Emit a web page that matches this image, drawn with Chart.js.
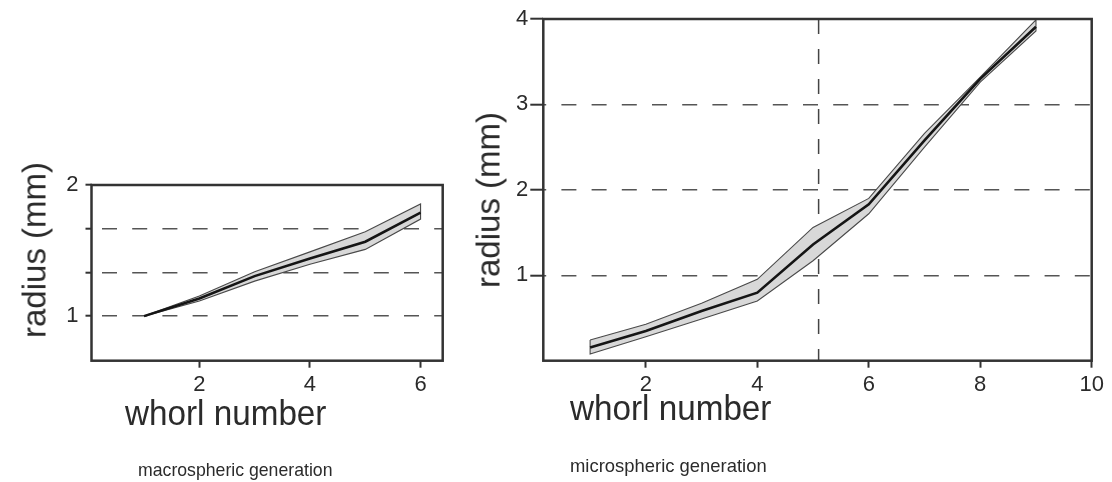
<!DOCTYPE html>
<html><head><meta charset="utf-8">
<script src="https://cdn.jsdelivr.net/npm/chart.js@4.4.1/dist/chart.umd.min.js"></script>
<style>
html,body{margin:0;padding:0;background:#fff;}
#wrap{position:relative;width:1112px;height:482px;overflow:hidden;font-family:'Liberation Sans',Arial,Helvetica,sans-serif;color:#2b2b2b;}
canvas{position:absolute;top:0;}
.t{position:absolute;white-space:nowrap;line-height:1;}
.rot{transform:translate(-50%,-50%) rotate(-90deg);}
</style></head><body>
<div id="wrap">
<canvas id="c1" width="480" height="482" style="left:0;width:480px;height:482px"></canvas>
<canvas id="c2" width="632" height="482" style="left:480px;width:632px;height:482px"></canvas>
<div class="t rot" style="left:34px;top:250px;font-size:33px">radius (mm)</div>
<div class="t rot" style="left:488px;top:200px;font-size:33px">radius (mm)</div>
<div class="t" style="left:125px;top:395px;font-size:35px;transform-origin:0 0;transform:scaleX(0.95)">whorl number</div>
<div class="t" style="left:570px;top:390px;font-size:35px;transform-origin:0 0;transform:scaleX(0.95)">whorl number</div>
<div class="t" style="left:138px;top:460px;font-size:19px;transform-origin:0 0;transform:scaleX(0.93)">macrospheric generation</div>
<div class="t" style="left:570px;top:456px;font-size:19px;transform-origin:0 0;transform:scaleX(0.97)">microspheric generation</div>
</div>
<script>
// ---- macrospheric generation (left) ----
const leftWhorl = [1, 2, 3, 4, 5, 6];
const leftMean  = [1.00, 1.135, 1.305, 1.44, 1.567, 1.789];
const leftUpper = [1.00, 1.153, 1.338, 1.49, 1.643, 1.855];
const leftLower = [1.00, 1.115, 1.267, 1.395, 1.509, 1.74];
const leftXTicks = [2, 4, 6];
const leftYTicks = [1, 4/3, 5/3, 2];
const leftYLabels = ['1', '', '', '2'];

// ---- microspheric generation (right) ----
const rightWhorl = [1, 2, 3, 4, 5, 6, 7, 8, 9];
const rightMean  = [0.155, 0.348, 0.582, 0.796, 1.36, 1.83, 2.58, 3.30, 3.91];
const rightUpper = [0.243, 0.426, 0.672, 0.953, 1.56, 1.90, 2.66, 3.32, 3.99];
const rightLower = [0.079, 0.281, 0.488, 0.699, 1.17, 1.72, 2.50, 3.26, 3.86];
const rightXTicks = [2, 4, 6, 8, 10];
const rightYTicks = [1, 2, 3, 4];
const rightYLabels = ['1', '2', '3', '4'];
const rightRefX = [5.1];

const FONT = "'Liberation Sans', Arial, Helvetica, sans-serif";
const INK = '#2b2b2b';

const framePlugin = {
  id: 'frame',
  afterDatasetsDraw(chart) {
    const {ctx, chartArea: a} = chart;
    ctx.save();
    ctx.strokeStyle = '#333';
    ctx.lineWidth = 2.5;
    ctx.strokeRect(a.left, a.top, a.right - a.left, a.bottom - a.top);
    ctx.restore();
  }
};

function pts(xs, ys) { return xs.map((x, i) => ({x: x, y: ys[i]})); }

function build(id, cfg) {
  const up = pts(cfg.xs, cfg.upper);
  const lo = pts(cfg.xs, cfg.lower);
  const outline = up.concat(lo.slice().reverse(), [up[0]]);
  const datasets = [
    {data: up, borderWidth: 0, borderColor: 'rgba(0,0,0,0)', backgroundColor: '#d8d8d8', fill: '+1', order: 4},
    {data: lo, borderWidth: 0, borderColor: 'rgba(0,0,0,0)', fill: false, order: 3},
    {data: outline, borderWidth: 1.1, borderColor: '#4a4a4a', fill: false, order: 2},
    {data: pts(cfg.xs, cfg.mean), borderWidth: 2.6, borderColor: '#151515', fill: false, order: 1}
  ];
  (cfg.refX || []).forEach(r => {
    datasets.push({data: [{x: r, y: cfg.ymax}, {x: r, y: cfg.ymin}], borderWidth: 1.5,
      borderColor: '#444', borderDash: [15, 15], fill: false, order: 5});
  });
  datasets.forEach(d => { d.pointRadius = 0; d.pointHoverRadius = 0; d.tension = 0; });
  return new Chart(document.getElementById(id), {
    type: 'line',
    data: {datasets: datasets},
    plugins: [framePlugin],
    options: {
      responsive: false, animation: false, devicePixelRatio: 1,
      layout: {padding: cfg.padding},
      plugins: {legend: {display: false}, tooltip: {enabled: false}},
      scales: {
        x: {
          type: 'linear', min: cfg.xmin, max: cfg.xmax,
          afterBuildTicks: s => { s.ticks = cfg.xTicks.map(v => ({value: v})); },
          afterFit: s => { s.height = cfg.xH; },
          grid: {drawOnChartArea: false, drawTicks: true, tickLength: 7, tickColor: '#333', tickWidth: 2, tickBorderDash: []},
          border: {display: false},
          ticks: {font: {family: FONT, size: 22}, color: INK, padding: 4, maxRotation: 0, autoSkip: false}
        },
        y: {
          type: 'linear', min: cfg.ymin, max: cfg.ymax,
          afterBuildTicks: s => { s.ticks = cfg.yTicks.map(v => ({value: v})); },
          afterFit: s => { s.width = cfg.yW; },
          grid: {drawOnChartArea: true, color: '#555', lineWidth: 1.4, drawTicks: true,
                 tickLength: cfg.yTickLen, tickColor: '#333', tickWidth: 2, tickBorderDash: []},
          border: {display: false, dash: [15, 15.2], dashOffset: cfg.dashOffset},
          ticks: {font: {family: FONT, size: 22}, color: INK, padding: cfg.yPad, autoSkip: false,
                  callback: (v, i) => cfg.yLabels[i]}
        }
      }
    }
  });
}

build('c1', {
  xs: leftWhorl, mean: leftMean, upper: leftUpper, lower: leftLower,
  xTicks: leftXTicks, yTicks: leftYTicks, yLabels: leftYLabels,
  xmin: 0.05, xmax: 6.4, ymin: 0.66, ymax: 2,
  padding: {left: 0, top: 185, right: 37.3, bottom: 0},
  xH: 121.3, yW: 91.5, yTickLen: 6, yPad: 7, dashOffset: 20.2
});
build('c2', {
  xs: rightWhorl, mean: rightMean, upper: rightUpper, lower: rightLower, refX: rightRefX,
  xTicks: rightXTicks, yTicks: rightYTicks, yLabels: rightYLabels,
  xmin: 0.16, xmax: 10, ymin: 0, ymax: 4,
  padding: {left: 0, top: 19, right: 20.3, bottom: 0},
  xH: 121.3, yW: 63.3, yTickLen: 13, yPad: 2, dashOffset: 11.8
});
</script>
</body></html>
